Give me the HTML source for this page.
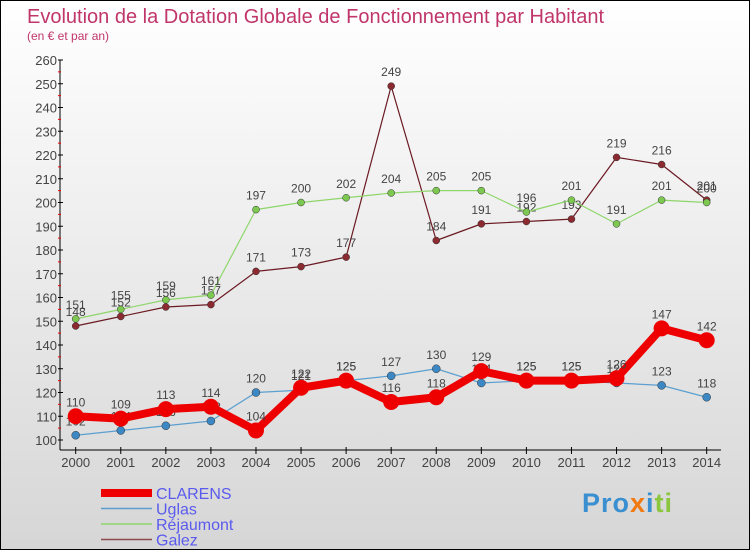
<!DOCTYPE html>
<html><head><meta charset="utf-8"><style>
body{margin:0;width:750px;height:550px;overflow:hidden;font-family:"Liberation Sans",sans-serif}
#c{position:absolute;left:0;top:0;width:748px;height:548px;border:1px solid #000;background:linear-gradient(#ffffff,#d6d6d6)}
</style></head><body>
<div id="c">
<svg id="s" width="748" height="548" xmlns="http://www.w3.org/2000/svg">
<text x="26" y="22" font-size="20" fill="#c0356a">Evolution de la Dotation Globale de Fonctionnement par Habitant</text>
<text x="26" y="39" font-size="12" fill="#c0356a">(en € et par an)</text>
<g id="axes"></g><g id="series"></g><g id="legend"></g>
</svg></div>
<script>
const years=[2000,2001,2002,2003,2004,2005,2006,2007,2008,2009,2010,2011,2012,2013,2014];
const yTicks=[100,110,120,130,140,150,160,170,180,190,200,210,220,230,240,250,260];
const clarens=[110,109,113,114,104,122,125,116,118,129,125,125,126,147,142];
const uglas=[102,104,106,108,120,121,125,127,130,124,125,125,124,123,118];
const rejaumont=[151,155,159,161,197,200,202,204,205,205,196,201,191,201,200];
const galez=[148,152,156,157,171,173,177,249,184,191,192,193,219,216,201];
const seriesNames=["CLARENS","Uglas","Réjaumont","Galez"];
const NS="http://www.w3.org/2000/svg";
const X=i=>74.7+i*45.07;
const Y=v=>439-(v-100)*2.375;
function mk(tag,attrs,parent,text){const e=document.createElementNS(NS,tag);for(const k in attrs)e.setAttribute(k,attrs[k]);if(text!==undefined)e.textContent=text;parent.appendChild(e);return e;}
const ax=document.getElementById('axes');
let e=mk('line',{x1:59,y1:59,x2:59,y2:449,stroke:'#000'},ax);


e=mk('line',{x1:59,y1:449,x2:720,y2:449,stroke:'#000'},ax);


yTicks.forEach((t,i)=>{
  mk('line',{x1:57,y1:Y(t),x2:62,y2:Y(t),stroke:'#000'},ax);
  if(i<yTicks.length-1)mk('line',{x1:57,y1:Y(t+5),x2:60,y2:Y(t+5),stroke:'#e00'},ax);
  const l=mk('text',{x:56,y:Y(t)+5,'font-size':13,fill:'#444','text-anchor':'end'},ax,t);
  
  
});
years.forEach((yr,i)=>{
  mk('line',{x1:X(i),y1:446,x2:X(i),y2:453,stroke:'#000'},ax);
  const l=mk('text',{x:X(i),y:466,'font-size':13,fill:'#444','text-anchor':'middle'},ax,yr);
  
  
});
const sg=document.getElementById('series');
const cfg=[[galez,'#6b1a22','#8b2a30',1.2,3.5],[rejaumont,'#8ed66a','#7cc850',1.2,3.5],[uglas,'#5b9fd0','#3c88c4',1.2,4],[clarens,'#ee0000','#ee0000',8,8]];
const names=['galez','rejaumont','uglas','clarens'];
cfg.forEach((c,k)=>{
  const [d,lc,pc,w,r]=c;
  const g=mk('g',{},sg);
  
  
  const p=mk('polyline',{points:d.map((v,i)=>X(i)+','+Y(v)).join(' '),fill:'none',stroke:lc,'stroke-width':w,'stroke-linejoin':'round'},g);
  
  
  d.forEach((v,i)=>{
    const pt=mk('circle',{cx:X(i),cy:Y(v),r:r,fill:pc,stroke:k==3?'none':'#333','stroke-width':0.5},g);
    
    
    const t=mk('text',{x:X(i),y:Y(v)-10,'font-size':12,fill:'#444','text-anchor':'middle'},g,v);
    
    
  });
});
const lg=document.getElementById('legend');
const lcol=['#ee0000','#5b9fd0','#8ed66a','#8b4a50'],lw=[8,1.5,1.5,1.5];
seriesNames.forEach((n,i)=>{
  const y=492+i*15.5;
  const g=mk('g',{},lg);
  
  
  mk('line',{x1:100,y1:y,x2:151,y2:y,stroke:lcol[i],'stroke-width':lw[i]},g);
  mk('text',{x:155,y:y+6,'font-size':16,fill:'#5a5aee'},g,n);
});
</script>
<div style="position:absolute;left:582px;top:488px;font-size:27px;font-weight:bold;font-family:'Liberation Sans',sans-serif;letter-spacing:1px"><span style="color:#3a8fd0">Pro</span><span style="color:#f07a10">x</span><span style="color:#3a8fd0">i</span><span style="color:#8cc63f">ti</span></div>
</body></html>
